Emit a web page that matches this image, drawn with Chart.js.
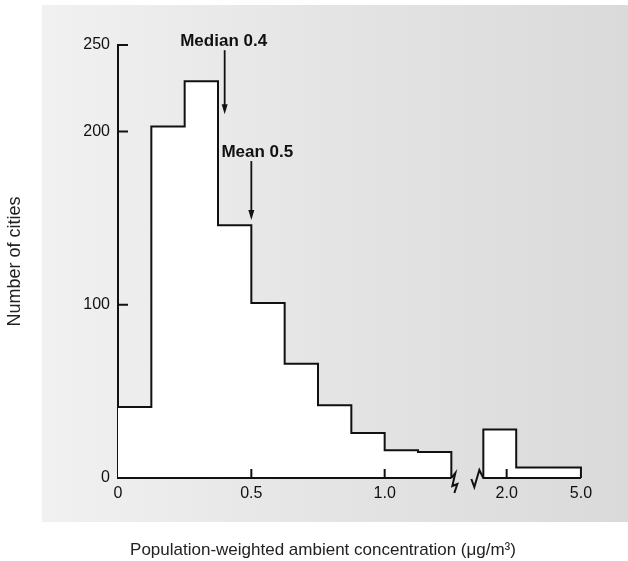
<!DOCTYPE html>
<html>
<head>
<meta charset="utf-8">
<script src="https://cdn.jsdelivr.net/npm/chart.js@4"></script>
<style>
  html, body { margin: 0; padding: 0; background: #fff; }
</style>
</head>
<body>
<canvas id="histChart" width="628" height="561"></canvas>
<script>
// histogram bins (ug/m3), 0.125 wide up to the axis break
const binEdges = [0, 0.125, 0.25, 0.375, 0.5, 0.625, 0.75, 0.875, 1.0, 1.125, 1.25];
const cityCounts = [41, 203, 229, 146, 101, 66, 42, 26, 16, 15];
// bins after the break
const highEdges = [1.5, 2.25, 5.0];
const highCounts = [28, 6];

const xTickValues = [0, 0.5, 1.0, 2.0, 5.0];
const xTickLabels = ['0', '0.5', '1.0', '2.0', '5.0'];
const xInnerTicks = [0.5, 1.0, 2.0];
const yTickValues = [0, 100, 200, 250];

const statLabels = ['Median 0.4', 'Mean 0.5'];
const statValues = [0.4, 0.5];

const FONT = "'Liberation Sans', Arial, sans-serif";
const INK = '#111';

// broken axis: linear up to 1.25, then a gap and a squeezed log part
const breakAt = 1.25, restartAt = 1.5, gapWidth = 0.12, logStretch = 0.7;
function axisPos(v) {
    if (v <= breakAt) return v;
    return breakAt + gapWidth + logStretch * Math.log10(v / restartAt);
}

function stepPoints(edges, counts, closeStart) {
    const pts = [];
    if (closeStart) pts.push({ x: axisPos(edges[0]), y: 0 });
    counts.forEach((c, i) => pts.push({ x: axisPos(edges[i]), y: c }));
    pts.push({ x: axisPos(edges[edges.length - 1]), y: 0 });
    return pts;
}

const panelPlugin = {
    id: 'panel',
    beforeDraw(chart) {
        const c = chart.ctx;
        const g = c.createLinearGradient(42, 0, chart.width, 0);
        g.addColorStop(0, '#f1f1f1');
        g.addColorStop(0.5, '#e4e4e4');
        g.addColorStop(1, '#dadada');
        c.save();
        c.fillStyle = g;
        c.fillRect(42, 5, chart.width - 42, 517);
        c.restore();
    }
};

// arrow geometry for the stat markers (in y units) and text offsets (px)
const statArrows = [
    { from: 247, to: 210, dx: -1 },
    { from: 183, to: 149, dx: 6 }
];

const markupPlugin = {
    id: 'markup',
    afterDraw(chart) {
        const c = chart.ctx;
        const { x, y } = chart.scales;
        const area = chart.chartArea;
        const y0 = y.getPixelForValue(0);
        const xBreak = x.getPixelForValue(axisPos(binEdges[binEdges.length - 1]));
        const xRestart = x.getPixelForValue(axisPos(highEdges[0]));
        const xEnd = x.getPixelForValue(axisPos(highEdges[highEdges.length - 1]));

        c.save();
        c.strokeStyle = INK;
        c.fillStyle = INK;
        c.lineWidth = 2;
        c.lineJoin = 'miter';

        // x axis in two pieces with break marks
        c.beginPath();
        c.moveTo(area.left, y0);
        c.lineTo(xBreak, y0);
        c.moveTo(xBreak, y0);
        c.lineTo(xBreak + 4, y0 - 5);
        c.lineTo(xBreak + 1, y0 + 8);
        c.lineTo(xBreak + 6, y0 + 6);
        c.lineTo(xBreak + 3, y0 + 15);
        c.moveTo(xRestart - 12, y0 + 1);
        c.lineTo(xRestart - 9, y0 + 9);
        c.lineTo(xRestart - 4, y0 - 8);
        c.lineTo(xRestart, y0);
        c.lineTo(xEnd, y0);

        // inward tick marks
        yTickValues.filter(v => v > 0).forEach(v => {
            const py = y.getPixelForValue(v);
            c.moveTo(area.left, py);
            c.lineTo(area.left + 10, py);
        });
        xInnerTicks.forEach(v => {
            const px = x.getPixelForValue(axisPos(v));
            c.moveTo(px, y0);
            c.lineTo(px, y0 - 9);
        });
        c.stroke();

        // median / mean arrows
        c.font = "bold 17px " + FONT;
        c.textAlign = 'center';
        c.textBaseline = 'alphabetic';
        statValues.forEach((v, i) => {
            const a = statArrows[i];
            const px = x.getPixelForValue(axisPos(v));
            const top = y.getPixelForValue(a.from);
            const tip = y.getPixelForValue(a.to);
            c.lineWidth = 1.8;
            c.beginPath();
            c.moveTo(px, top);
            c.lineTo(px, tip - 8);
            c.stroke();
            c.beginPath();
            c.moveTo(px - 3, tip - 10);
            c.lineTo(px + 3, tip - 10);
            c.lineTo(px, tip);
            c.closePath();
            c.fill();
            c.fillText(statLabels[i], px + a.dx, top - 4);
        });

        // x axis title
        c.font = "17px " + FONT;
        c.fillStyle = '#222';
        c.textBaseline = 'middle';
        c.fillText('Population-weighted ambient concentration (\u03bcg/m\u00b3)', chart.width / 2 + 9, 550);
        c.restore();
    }
};

const ctx = document.getElementById('histChart').getContext('2d');
new Chart(ctx, {
    type: 'line',
    data: {
        datasets: [
            {
                data: stepPoints(binEdges, cityCounts, false),
                stepped: true,
                fill: 'origin',
                backgroundColor: '#ffffff',
                borderColor: INK,
                borderWidth: 2,
                pointRadius: 0
            },
            {
                data: stepPoints(highEdges, highCounts, true),
                stepped: true,
                fill: 'origin',
                backgroundColor: '#ffffff',
                borderColor: INK,
                borderWidth: 2,
                pointRadius: 0
            }
        ]
    },
    options: {
        responsive: false,
        animation: false,
        layout: { padding: { left: 0, top: 45, right: 30, bottom: 0 } },
        plugins: {
            legend: { display: false },
            tooltip: { enabled: false }
        },
        scales: {
            x: {
                type: 'linear',
                min: 0,
                max: 1.8,
                grid: { display: false, drawTicks: false },
                border: { display: false },
                afterBuildTicks: s => { s.ticks = xTickValues.map(v => ({ value: axisPos(v) })); },
                ticks: {
                    autoSkip: false,
                    maxRotation: 0,
                    padding: 6,
                    color: INK,
                    font: { family: FONT, size: 16 },
                    callback: (v, i) => xTickLabels[i]
                },
                afterFit: s => { s.height = 83; }
            },
            y: {
                min: 0,
                max: 250,
                z: 1,
                grid: { display: false, drawTicks: false },
                border: { display: true, color: INK, width: 2 },
                afterBuildTicks: s => { s.ticks = yTickValues.map(v => ({ value: v })); },
                ticks: {
                    padding: 8,
                    color: INK,
                    font: { family: FONT, size: 16 },
                    callback: v => v
                },
                title: {
                    display: true,
                    text: 'Number of cities',
                    color: '#222',
                    font: { family: FONT, size: 18 },
                    padding: { top: 4, bottom: 0 }
                },
                afterFit: s => { s.width = 118; }
            }
        }
    },
    plugins: [panelPlugin, markupPlugin]
});
</script>
</body>
</html>
